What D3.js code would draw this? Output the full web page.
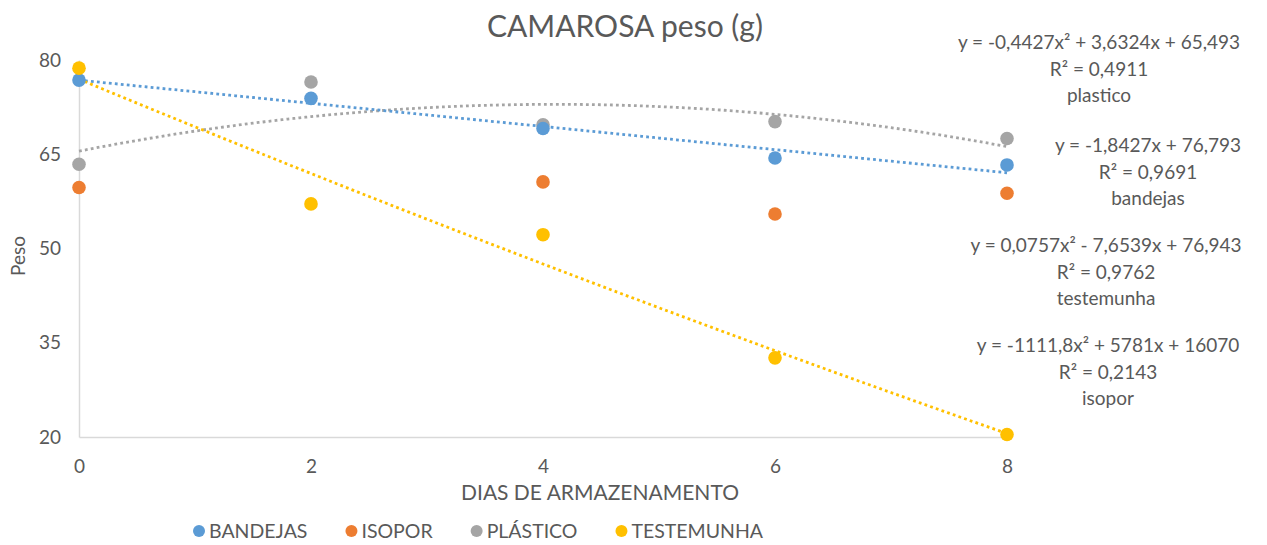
<!DOCTYPE html>
<html>
<head>
<meta charset="utf-8">
<script src="https://cdn.jsdelivr.net/npm/d3@7"></script>
<style>
  html, body { margin: 0; padding: 0; background: #fff; }
  svg { display: block; font-family: Lato, "Open Sans", sans-serif; }
</style>
</head>
<body>
<svg id="chart" width="1267" height="545"></svg>
<script>
// Storage days (x) and weight readings per packaging type
const dias = [0, 2, 4, 6, 8];
const seriesNames = ["BANDEJAS", "ISOPOR", "PLÁSTICO", "TESTEMUNHA"];
const bandejas   = [76.8, 73.9, 69.1, 64.4, 63.3];
const isopor     = [59.7, null, 60.6, 55.5, 58.8];
const plastico   = [63.4, 76.5, 69.7, 70.2, 67.5];
const testemunha = [78.7, 57.1, 52.2, 32.6, 20.4];
const yTicks = [20, 35, 50, 65, 80];
const xTicks = [0, 2, 4, 6, 8];

// Trend line coefficients [a, b, c] for y = a*x^2 + b*x + c
const trendBandejas   = [0, -1.8427, 76.793];
const trendPlastico   = [-0.4427, 3.6324, 65.493];
const trendTestemunha = [0.0757, -7.6539, 76.943];

// Equation labels shown at the right
const eqPlastico   = ["y = -0,4427x² + 3,6324x + 65,493", "R² = 0,4911", "plastico"];
const eqBandejas   = ["y = -1,8427x + 76,793", "R² = 0,9691", "bandejas"];
const eqTestemunha = ["y = 0,0757x² - 7,6539x + 76,943", "R² = 0,9762", "testemunha"];
const eqIsopor     = ["y = -1111,8x² + 5781x + 16070", "R² = 0,2143", "isopor"];

const colors = { BANDEJAS: "#5B9BD5", ISOPOR: "#ED7D31", "PLÁSTICO": "#A5A5A5", TESTEMUNHA: "#FFC000" };
const textColor = "#595959";

const svg = d3.select("#chart");
const x = d3.scaleLinear().domain([0, 8]).range([79, 1007]);
const y = d3.scaleLinear().domain([20, 80]).range([437, 60]);

// Title
svg.append("text")
  .attr("x", 625).attr("y", 37)
  .attr("text-anchor", "middle")
  .attr("font-size", 30)
  .attr("fill", textColor)
  .text("CAMAROSA peso (g)");

// Axes
const yAxis = svg.append("g")
  .attr("transform", `translate(${x(0)},0)`)
  .call(d3.axisLeft(y).tickValues(yTicks).tickSize(0).tickPadding(18));
const xAxis = svg.append("g")
  .attr("transform", `translate(0,${y(20)})`)
  .call(d3.axisBottom(x).tickValues(xTicks).tickSize(0).tickPadding(23));
[yAxis, xAxis].forEach(g => {
  g.select(".domain").attr("stroke", "#d9d9d9").attr("stroke-width", 1.5);
  g.selectAll("text").attr("fill", textColor).attr("font-size", 19).attr("font-family", "Lato, sans-serif");
});

// Axis titles
svg.append("text")
  .attr("transform", "translate(25,256) rotate(-90)")
  .attr("text-anchor", "middle")
  .attr("font-size", 19)
  .attr("fill", textColor)
  .text("Peso");
svg.append("text")
  .attr("x", 600).attr("y", 500)
  .attr("text-anchor", "middle")
  .attr("font-size", 21)
  .attr("fill", textColor)
  .text("DIAS DE ARMAZENAMENTO");

// Trend lines
const xs = d3.range(0, 8.0001, 0.05);
const trendLine = d3.line().x(d => x(d[0])).y(d => y(d[1]));
const trends = [
  { name: "PLÁSTICO", c: trendPlastico },
  { name: "BANDEJAS", c: trendBandejas },
  { name: "TESTEMUNHA", c: trendTestemunha }
];
trends.forEach(t => {
  const pts = xs.map(v => [v, t.c[0] * v * v + t.c[1] * v + t.c[2]]);
  svg.append("path")
    .attr("d", trendLine(pts))
    .attr("fill", "none")
    .attr("stroke", colors[t.name])
    .attr("stroke-width", 2.8)
    .attr("stroke-dasharray", "2.8,3.2");
});

// Markers
const seriesData = [
  { name: "PLÁSTICO", values: plastico },
  { name: "BANDEJAS", values: bandejas },
  { name: "ISOPOR", values: isopor },
  { name: "TESTEMUNHA", values: testemunha }
];
seriesData.forEach(s => {
  svg.append("g").selectAll("circle")
    .data(dias.map((d, i) => [d, s.values[i]]).filter(p => p[1] != null))
    .join("circle")
    .attr("cx", d => x(d[0]))
    .attr("cy", d => y(d[1]))
    .attr("r", 6.8)
    .attr("fill", colors[s.name]);
});

// Equation labels
const eqGroups = [
  { lines: eqPlastico, cx: 1099, top: 49 },
  { lines: eqBandejas, cx: 1148, top: 152 },
  { lines: eqTestemunha, cx: 1106, top: 252 },
  { lines: eqIsopor, cx: 1108, top: 352 }
];
eqGroups.forEach(g => {
  const t = svg.append("text")
    .attr("text-anchor", "middle")
    .attr("font-size", 19)
    .attr("fill", textColor);
  g.lines.forEach((line, i) => {
    t.append("tspan").attr("x", g.cx).attr("y", g.top + i * 26.5).text(line);
  });
});

// Legend
const legend = svg.append("g").attr("font-size", 19.5).attr("fill", textColor);
let lx = 199;
seriesNames.forEach(name => {
  legend.append("circle").attr("cx", lx).attr("cy", 531).attr("r", 6).attr("fill", colors[name]);
  const txt = legend.append("text").attr("x", lx + 10).attr("y", 538).attr("fill", textColor).text(name);
  lx += 10 + txt.node().getComputedTextLength() + 44;
});
</script>
</body>
</html>
